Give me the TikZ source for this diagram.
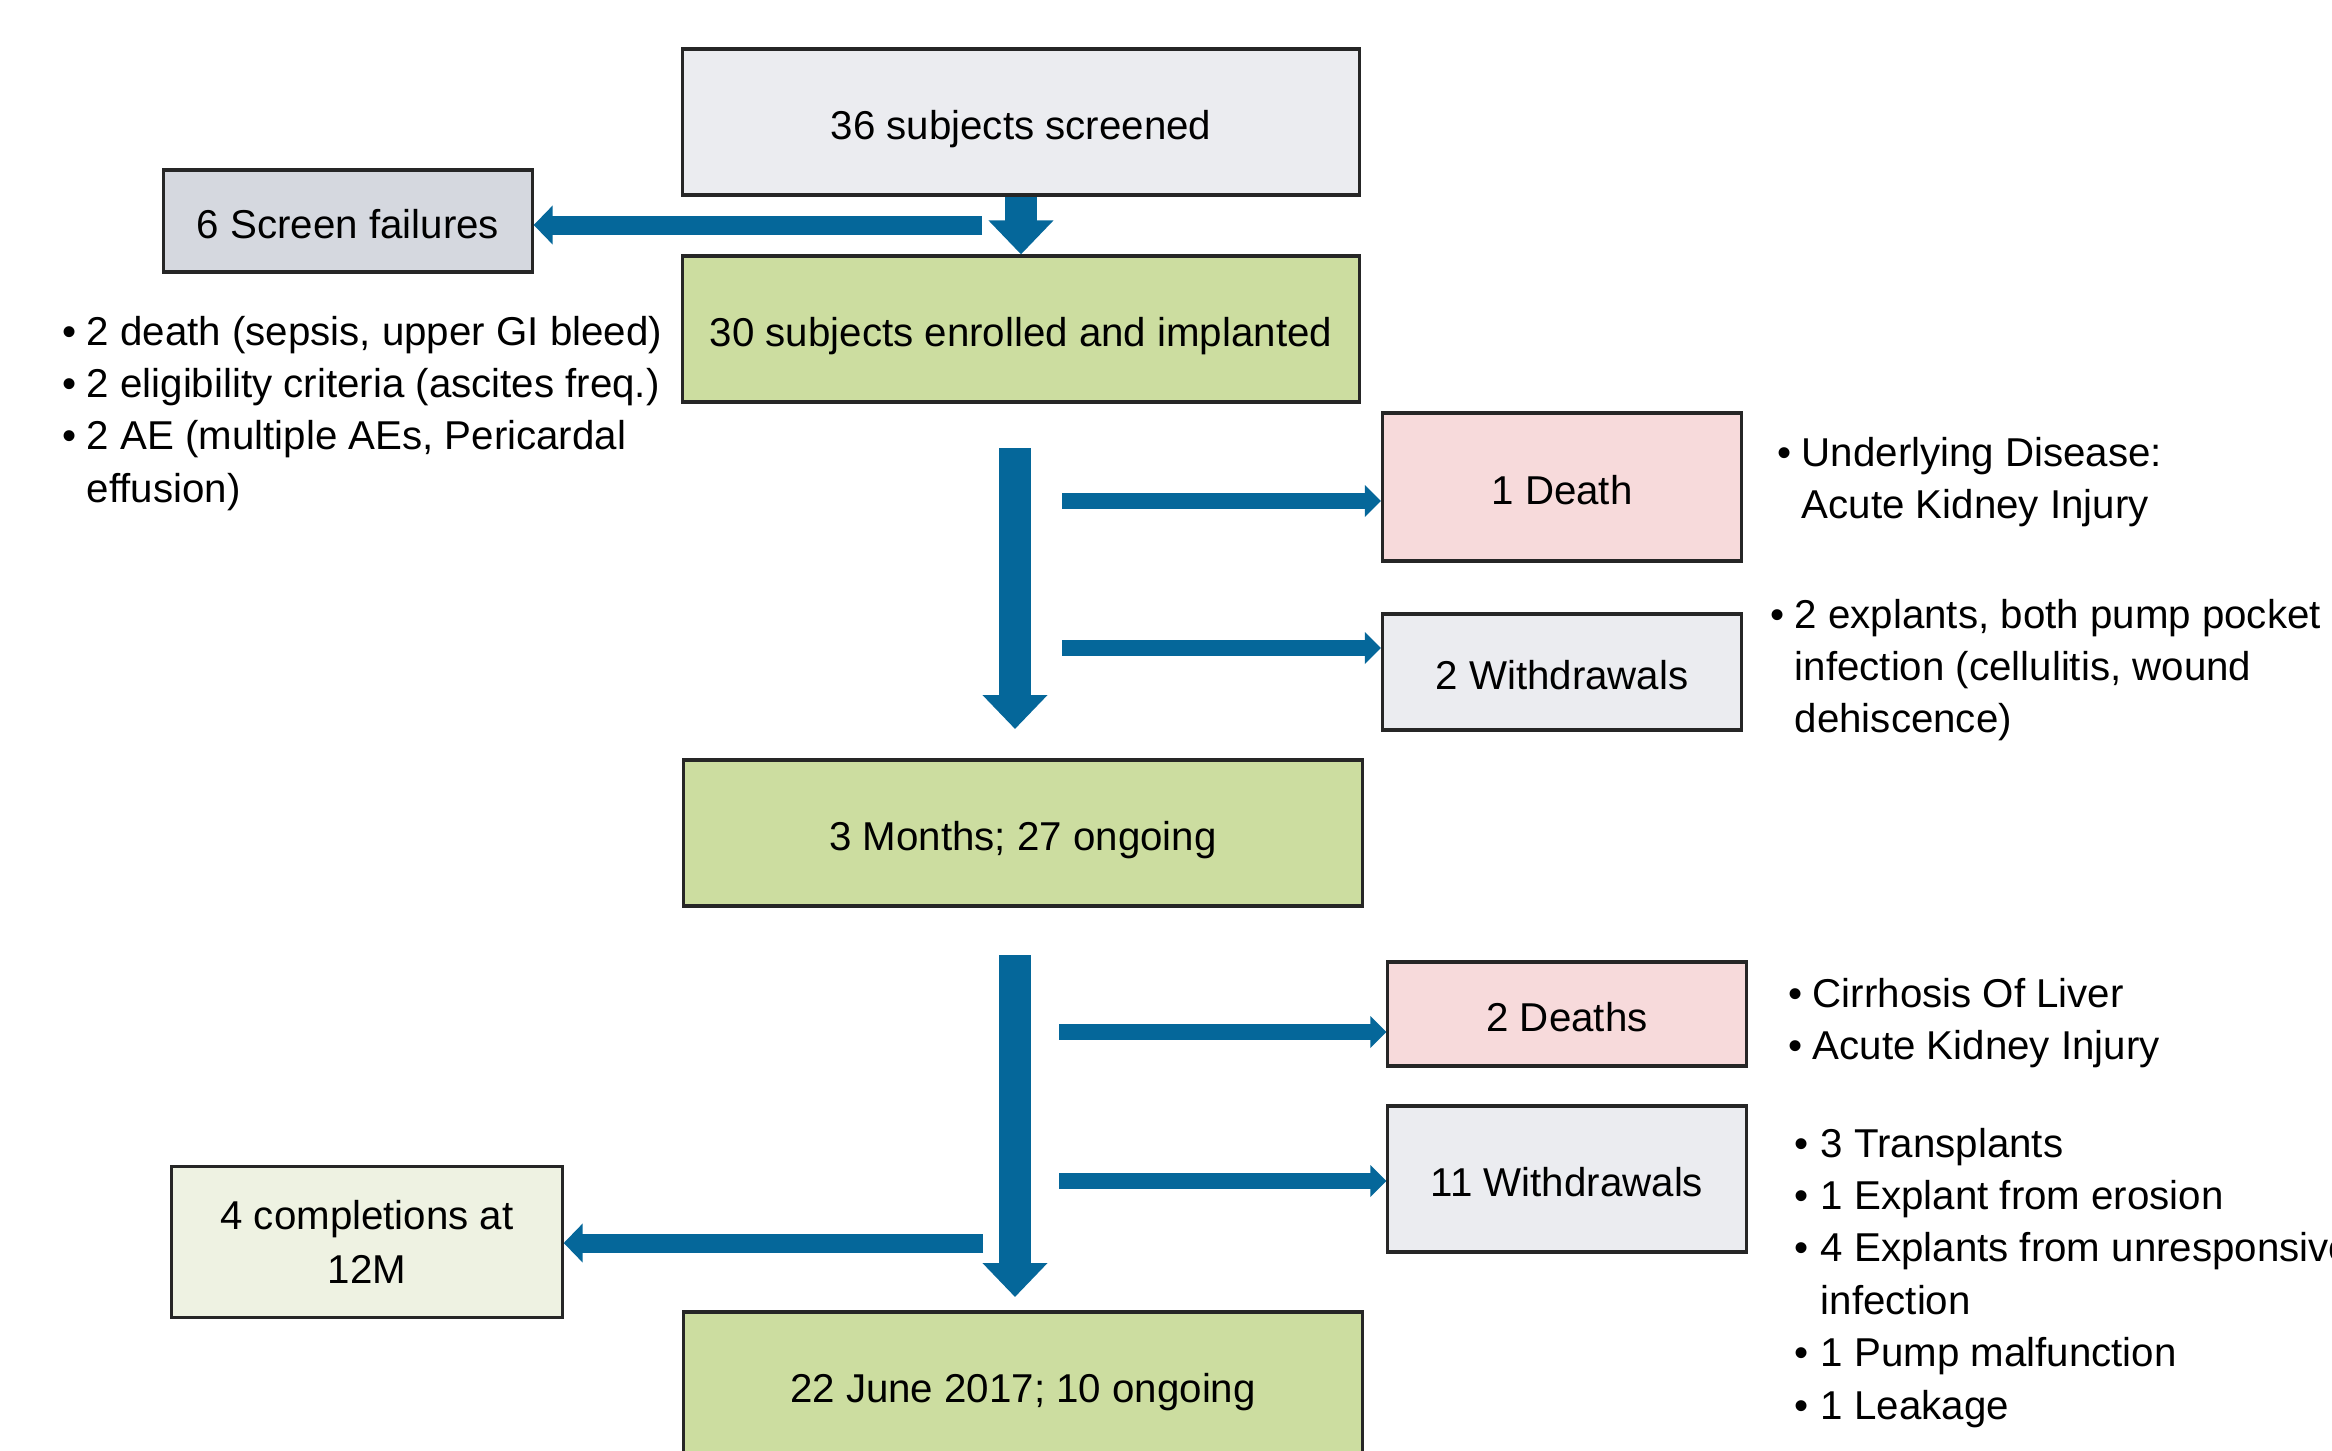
\documentclass[tikz,border=0pt]{standalone}
\usepackage{fontspec}
\setmainfont{Liberation Sans}
\usetikzlibrary{arrows.meta}
\definecolor{boxgray}{RGB}{235,236,240}
\definecolor{boxgraydark}{RGB}{213,216,223}
\definecolor{boxgreen}{RGB}{204,221,160}
\definecolor{boxpink}{RGB}{247,218,219}
\definecolor{boxpale}{RGB}{238,242,226}
\definecolor{arrowblue}{RGB}{5,103,154}
\begin{document}
\begin{tikzpicture}[x=0.01cm,y=-0.01cm,
  box/.style={draw=black!85, line width=0.9pt, inner sep=0pt, align=center, font=\fontsize{11.45}{15.2}\selectfont},
  onebox/.style={box, text height=0.35cm, text depth=0cm},
  note/.style={inner sep=0pt, anchor=base west, font=\fontsize{11.45}{14.9}\selectfont},
  bigarrow/.style={draw=arrowblue, fill=arrowblue, line width=0.32cm, -{Triangle[width=0.63cm,length=0.34cm]}},
  sidearrow/.style={draw=arrowblue, fill=arrowblue, line width=0.16cm, -{Triangle[width=0.31cm,length=0.16cm]}},
  backarrow/.style={draw=arrowblue, fill=arrowblue, line width=0.19cm, -{Triangle[width=0.38cm,length=0.19cm]}}]
\clip (0,0) rectangle (2332,1450);
\fill[white] (0,0) rectangle (2332,1450);
% boxes
\node[onebox, fill=boxgray, minimum width=6.76cm, minimum height=1.46cm] (A) at (1021,122) {36 subjects screened};
\node[onebox, fill=boxgraydark, minimum width=3.68cm, minimum height=1.02cm] (B) at (348,221) {6 Screen failures};
\node[onebox, fill=boxgreen, minimum width=6.76cm, minimum height=1.46cm] (C) at (1021,329) {30 subjects enrolled and implanted};
\node[onebox, fill=boxpink, minimum width=3.59cm, minimum height=1.48cm] (D1) at (1562,487) {1 Death};
\node[onebox, fill=boxgray, minimum width=3.59cm, minimum height=1.16cm] (W1) at (1562,672) {2 Withdrawals};
\node[onebox, fill=boxgreen, minimum width=6.78cm, minimum height=1.46cm] (M3) at (1023,833) {3 Months; 27 ongoing};
\node[onebox, fill=boxpink, minimum width=3.58cm, minimum height=1.04cm] (D2) at (1567,1014) {2 Deaths};
\node[onebox, fill=boxgray, minimum width=3.58cm, minimum height=1.46cm] (W2) at (1567,1179) {11 Withdrawals};
\node[box, fill=boxpale, minimum width=3.90cm, minimum height=1.51cm] (Comp) at (367,1242) {4 completions at\\12M};
\node[onebox, fill=boxgreen, minimum width=6.78cm, minimum height=1.46cm] (F) at (1023,1385) {22 June 2017; 10 ongoing};
% notes
\node[note] (n1) at (62,345) {\begin{tabular}[t]{@{}l@{\hspace{0.10cm}}l@{}}• & 2 death (sepsis, upper GI bleed)\\ • & 2 eligibility criteria (ascites freq.)\\ • & 2 AE (multiple AEs, Pericardal\\ & effusion)\end{tabular}};
\node[note] (n2) at (1777,466) {\begin{tabular}[t]{@{}l@{\hspace{0.10cm}}l@{}}• & Underlying Disease:\\ & Acute Kidney Injury\end{tabular}};
\node[note] (n3) at (1770,628) {\begin{tabular}[t]{@{}l@{\hspace{0.10cm}}l@{}}• & 2 explants, both pump pocket\\ & infection (cellulitis, wound\\ & dehiscence)\end{tabular}};
\node[note] (n4) at (1788,1007) {\begin{tabular}[t]{@{}l@{\hspace{0.10cm}}l@{}}• & Cirrhosis Of Liver\\ • & Acute Kidney Injury\end{tabular}};
\node[note] (n5) at (1794,1157) {\begin{tabular}[t]{@{}l@{\hspace{0.12cm}}l@{}}• & 3 Transplants\\ • & 1 Explant from erosion\\ • & 4 Explants from unresponsive\\ & infection\\ • & 1 Pump malfunction\\ • & 1 Leakage\end{tabular}};
% arrow coordinates
\coordinate (l1) at (982,225);
\coordinate (v1s) at (1015,448);
\coordinate (v1e) at (1015,729);
\coordinate (r1) at (1062,501);
\coordinate (r2) at (1062,648);
\coordinate (v2s) at (1015,955);
\coordinate (v2e) at (1015,1297);
\coordinate (r3) at (1059,1032);
\coordinate (r4) at (1059,1181);
\coordinate (l2) at (983,1243);
% arrows
\draw[bigarrow] (A.south) -- (C.north);
\draw[backarrow] (l1) -- (l1 -| B.east);
\draw[bigarrow] (v1s) -- (v1e);
\draw[sidearrow] (r1) -- (r1 -| D1.west);
\draw[sidearrow] (r2) -- (r2 -| W1.west);
\draw[bigarrow] (v2s) -- (v2e);
\draw[sidearrow] (r3) -- (r3 -| D2.west);
\draw[sidearrow] (r4) -- (r4 -| W2.west);
\draw[backarrow] (l2) -- (l2 -| Comp.east);
\end{tikzpicture}
\end{document}
